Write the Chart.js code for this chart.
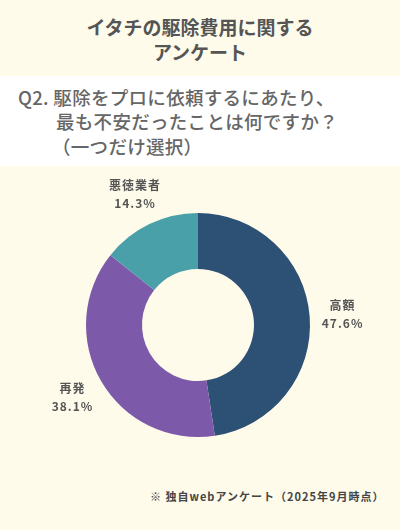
<!DOCTYPE html>
<html lang="ja">
<head>
<meta charset="utf-8">
<script src="https://cdn.jsdelivr.net/npm/chart.js@4"></script>
<style>
  html, body { margin: 0; padding: 0; }
  body {
    width: 400px; height: 530px; position: relative; overflow: hidden;
    background: #fefbeb;
    font-family: "Noto Sans CJK JP", sans-serif;
  }
  .title {
    position: absolute; top: 14px; left: 0; width: 400px;
    text-align: center; font-size: 19px; font-weight: bold;
    line-height: 25px; color: #555;
  }
  .band {
    position: absolute; top: 76px; left: 0; width: 400px; height: 90px;
    background: #ffffff;
  }
  .q {
    position: absolute; left: 18px; font-size: 18.5px; color: #666;
    font-weight: 500; white-space: nowrap; letter-spacing: 0.3px;
    line-height: 24px;
  }
  .note {
    position: absolute; top: 488px; left: 150px;
    font-size: 11px; font-weight: bold; color: #444; letter-spacing: 1px;
    white-space: nowrap;
  }
  #wrap { position: absolute; left: 0; top: 170px; width: 400px; height: 310px; }
</style>
</head>
<body>
<div class="title">イタチの駆除費用に関する<br>アンケート</div>
<div class="band"></div>
<div class="q" style="top:85px">Q2. 駆除をプロに依頼するにあたり、</div>
<div class="q" style="top:109px;left:56px">最も不安だったことは何ですか？</div>
<div class="q" style="top:134px;left:52px">（一つだけ選択）</div>
<div id="wrap"><canvas id="grafico"></canvas></div>
<div class="note">※ 独自webアンケート（2025年9月時点）</div>
<script>
const categorias = ['高額', '再発', '悪徳業者'];
const porcentajes = [47.6, 38.1, 14.3];
const colores = ['#2d5075', '#7c5aa9', '#4aa0a8'];

// etiquetas fuera del anillo
const etiquetas = {
    id: 'etiquetas',
    afterDatasetsDraw(chart) {
        const ctx = chart.ctx;
        const arcs = chart.getDatasetMeta(0).data;
        ctx.save();
        ctx.fillStyle = '#555';
        ctx.textAlign = 'center';
        ctx.textBaseline = 'middle';
        ctx.font = 'bold 12px "Noto Sans CJK JP"';
        if ('letterSpacing' in ctx) ctx.letterSpacing = '1px';
        arcs.forEach((arc, i) => {
            const ang = (arc.startAngle + arc.endAngle) / 2;
            const r = arc.outerRadius + 33;
            const x = arc.x + Math.cos(ang) * r;
            const y = arc.y + Math.sin(ang) * r;
            ctx.fillText(categorias[i], x, y - 9);
            ctx.fillText(porcentajes[i].toFixed(1) + '%', x, y + 9);
        });
        ctx.restore();
    }
};

new Chart(
    document.getElementById('grafico'),
    {
        type: 'doughnut',
        data: {
            labels: categorias,
            datasets: [{
                data: porcentajes,
                backgroundColor: colores,
                borderWidth: 0
            }]
        },
        options: {
            responsive: true,
            maintainAspectRatio: false,
            animation: false,
            cutout: '50%',
            layout: {
                padding: { top: 43, bottom: 43, left: 0, right: 4 }
            },
            plugins: {
                legend: { display: false },
                tooltip: { enabled: false }
            }
        },
        plugins: [etiquetas]
    }
);
</script>
</body>
</html>
